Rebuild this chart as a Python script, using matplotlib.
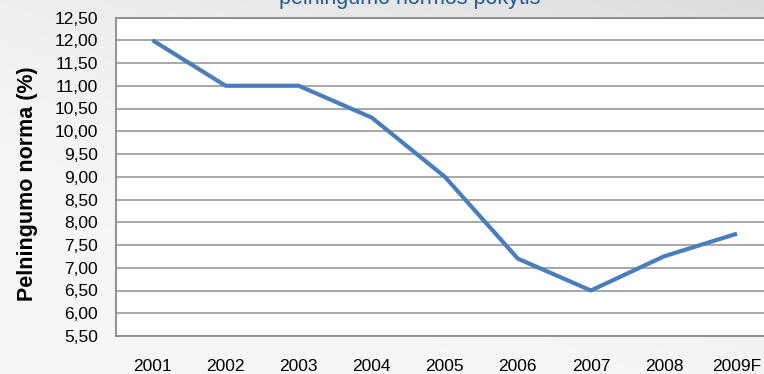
import numpy as np
import matplotlib
matplotlib.use("Agg")
import matplotlib.pyplot as plt
from matplotlib.ticker import FixedLocator, FuncFormatter

years = ["2001", "2002", "2003", "2004", "2005", "2006", "2007", "2008", "2009F"]
values = [12.00, 11.00, 11.00, 10.30, 9.00, 7.20, 6.50, 7.25, 7.75]
y_ticks = [5.5, 6.0, 6.5, 7.0, 7.5, 8.0, 8.5, 9.0, 9.5, 10.0, 10.5, 11.0, 11.5, 12.0, 12.5]
title = "pelningumo normos pokytis"
ylabel = "Pelningumo norma (%)"

plt.rcParams['font.family'] = ['Liberation Sans', 'DejaVu Sans']

W, H = 764, 374
fig = plt.figure(figsize=(W / 100, H / 100), dpi=100)

# background gradient
bg = fig.add_axes([0, 0, 1, 1], zorder=-10)
gx = np.linspace(0, 1, 200)
gy = np.linspace(0, 1, 100)
X, Y = np.meshgrid(gx, gy)
t = np.clip(0.55 * X + 0.75 * Y - 0.35, 0, 1) ** 1.5
shade = 0.965 - 0.11 * t
img = np.dstack([shade, shade, shade])
bg.imshow(img, origin='lower', extent=[0, 1, 0, 1], aspect='auto')
bg.set_axis_off()

left = 116 / W
bottom = (H - 336) / H
top = (H - 17.5) / H
xstep = (737 - 152) / 8
right_px = 152 - xstep / 2 + 9 * xstep
ax = fig.add_axes([left, bottom, (right_px - 116) / W, top - bottom])
ax.set_facecolor('white')

x = np.arange(len(years))
ax.plot(x, values, color='#4a7ebb', linewidth=3.0, solid_capstyle='butt', zorder=3)

ax.set_xlim(-0.5, len(years) - 0.5)
ax.set_ylim(y_ticks[0], y_ticks[-1])
ax.yaxis.set_major_locator(FixedLocator(y_ticks))
ax.yaxis.set_major_formatter(FuncFormatter(lambda v, p: f"{v:.2f}".replace('.', ',')))
ax.set_xticks(x)
ax.set_xticklabels(years)
ax.grid(axis='y', color='#a0a0a0', linewidth=1.3, zorder=1)
ax.set_axisbelow(True)
for s in ['left', 'bottom', 'top']:
    ax.spines[s].set_color('#8a8a8a')
    ax.spines[s].set_linewidth(1.3)
ax.spines['right'].set_visible(False)
ax.tick_params(axis='y', length=0, pad=13, labelsize=12.5, labelcolor='black')
ax.tick_params(axis='x', length=0, pad=16.5, labelsize=12.5, labelcolor='black')

fig.text(27 / W, 1 - 184 / H, ylabel, rotation=90, ha='center', va='center',
         fontsize=15.5, fontweight='bold')
fig.text(410 / W, 1 - 4 / H, title, ha='center', va='baseline', fontsize=15.5,
         color='#1f5c99')

fig.savefig("out.png", dpi=100)
